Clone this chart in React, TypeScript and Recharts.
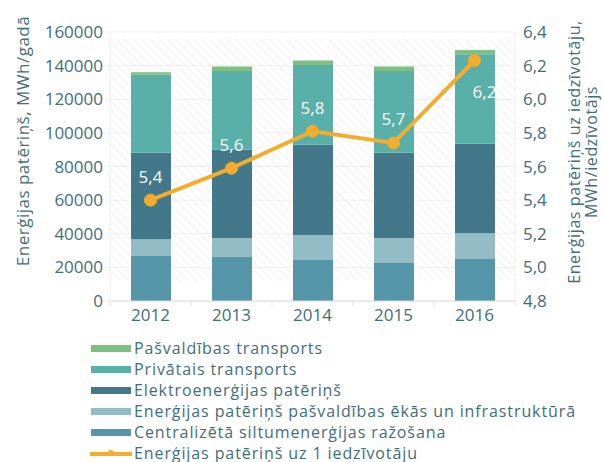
import { ComposedChart, Bar, Line, XAxis, YAxis, CartesianGrid, Legend, ReferenceArea, LabelList } from 'recharts';

const years = ['2012', '2013', '2014', '2015', '2016'];
const centralHeating = [26700, 26200, 24400, 22600, 25000];
const municipalBuildings = [10000, 11300, 14900, 14900, 15300];
const electricity = [51500, 52500, 53700, 50700, 53300];
const privateTransport = [46400, 46800, 47400, 48600, 53100];
const municipalTransport = [1400, 2700, 2700, 2700, 2600];
const perCapita = [5.4, 5.59, 5.81, 5.74, 6.23];

const leftTicks = [0, 20000, 40000, 60000, 80000, 100000, 120000, 140000, 160000];
const rightTicks = [4.8, 5.0, 5.2, 5.4, 5.6, 5.8, 6.0, 6.2, 6.4];

const data = years.map((year, i) => ({
  year,
  centralHeating: centralHeating[i],
  municipalBuildings: municipalBuildings[i],
  electricity: electricity[i],
  privateTransport: privateTransport[i],
  municipalTransport: municipalTransport[i],
  perCapita: perCapita[i],
}));

const TEXT = '#3f6e79';
const GRID = '#eeeeee';
const FONT = '"Open Sans", sans-serif';

const legendItems = [
  { name: 'Pašvaldības transports', color: '#7dbf85' },
  { name: 'Privātais transports', color: '#58b0a8' },
  { name: 'Elektroenerģijas patēriņš', color: '#42788a' },
  { name: 'Enerģijas patēriņš pašvaldības ēkās un infrastruktūrā', color: '#93bcc5' },
  { name: 'Centralizētā siltumenerģijas ražošana', color: '#5597a8' },
  { name: 'Enerģijas patēriņš uz 1 iedzīvotāju', color: '#f3ac2b', line: true },
];

const fmtComma = (v: number) => v.toFixed(1).replace('.', ',');

function XTick(props: any) {
  const { x, y, payload, index } = props;
  const half = 40.5;
  const top = y - 8;
  return (
    <g>
      <line x1={x - half} x2={x - half} y1={top} y2={top + 5} stroke="#dddddd" />
      {index === years.length - 1 && (
        <line x1={x + half} x2={x + half} y1={top} y2={top + 5} stroke="#dddddd" />
      )}
      <text x={x} y={y} dy={12} textAnchor="middle" fill={TEXT} fontSize={17} fontFamily={FONT}>
        {payload.value}
      </text>
    </g>
  );
}

function PointLabel(props: any) {
  const { x, y, value, index } = props;
  const last = index === years.length - 1;
  return (
    <text
      x={last ? x + 10 : x}
      y={last ? y + 31 : y - 24}
      textAnchor="middle"
      dominantBaseline="central"
      fill="#ffffff"
      fontSize={17}
      fontFamily={FONT}
    >
      {fmtComma(value)}
    </text>
  );
}

function LegendBox() {
  return (
    <div style={{ fontFamily: FONT, fontSize: 16, letterSpacing: 0.9, color: TEXT }}>
      {legendItems.map((item) => (
        <div key={item.name} style={{ display: 'flex', alignItems: 'center', height: 21, whiteSpace: 'nowrap' }}>
          <svg width={42} height={10} style={{ marginRight: 2 }}>
            {item.line ? (
              <g>
                <line x1={0} x2={42} y1={6} y2={6} stroke={item.color} strokeWidth={4} />
                <circle cx={21} cy={5} r={3} fill={item.color} />
              </g>
            ) : (
              <rect x={1} y={2} width={40} height={7} fill={item.color} />
            )}
          </svg>
          <span>{item.name}</span>
        </div>
      ))}
    </div>
  );
}

export default function App() {
  return (
    <div style={{ position: 'absolute', left: 0, top: 0 }}>
      <ComposedChart width={603} height={462} data={data} margin={{ top: 32, right: 0, bottom: 0, left: 0 }}>
        <defs>
          <pattern id="hatch" width="6" height="6" patternUnits="userSpaceOnUse" patternTransform="rotate(-45)">
            <line x1="0" y1="0" x2="0" y2="6" stroke="#e6e6e6" strokeWidth="1" />
          </pattern>
        </defs>
        <CartesianGrid vertical={false} stroke={GRID} yAxisId="left" />
        <ReferenceArea yAxisId="left" x1="2012" x2="2016" y1={12000} y2={156000} fill="url(#hatch)" fillOpacity={1} stroke="none" />
        <XAxis
          dataKey="year"
          height={30}
          axisLine={{ stroke: '#dddddd' }}
          tickLine={false}
          tick={<XTick />}
          interval={0}
        />
        <YAxis
          yAxisId="left"
          width={110}
          domain={[0, 160000]}
          ticks={leftTicks}
          interval={0}
          axisLine={{ stroke: GRID }}
          tickLine={{ stroke: GRID }}
          tickSize={5}
          tick={{ fill: TEXT, fontSize: 17, fontFamily: FONT }}
          label={() => (
            <text
              transform={`translate(22, 141) rotate(-90)`}
              textAnchor="middle"
              dominantBaseline="central"
              fill={TEXT}
              fontSize={17}
              letterSpacing={0.5}
              fontFamily={FONT}
            >
              Enerģijas patēriņš, MWh/gadā
            </text>
          )}
        />
        <YAxis
          yAxisId="right"
          orientation="right"
          width={88}
          domain={[4.8, 6.4]}
          ticks={rightTicks}
          interval={0}
          axisLine={{ stroke: GRID }}
          tickLine={false}
          tickFormatter={fmtComma}
          tick={{ fill: TEXT, fontSize: 17, fontFamily: FONT }}
          label={() => (
            <text
              transform={`translate(580, 152) rotate(-90)`}
              textAnchor="middle"
              fill={TEXT}
              fontSize={16}
              letterSpacing={0.6}
              fontFamily={FONT}
            >
              <tspan x={0} dy={0}>Enerģijas patēriņš uz iedzīvotāju,</tspan>
              <tspan x={0} dy={17}>MWh/iedzīvotājs</tspan>
            </text>
          )}
        />
        <Legend
          verticalAlign="bottom"
          align="left"
          content={<LegendBox />}
          wrapperStyle={{ left: 90, top: 337, bottom: 'auto', width: 520, height: 131 }}
        />
        <Bar yAxisId="left" dataKey="centralHeating" stackId="a" fill="#5597a8" barSize={40} isAnimationActive={false} />
        <Bar yAxisId="left" dataKey="municipalBuildings" stackId="a" fill="#93bcc5" barSize={40} isAnimationActive={false} />
        <Bar yAxisId="left" dataKey="electricity" stackId="a" fill="#42788a" barSize={40} isAnimationActive={false} />
        <Bar yAxisId="left" dataKey="privateTransport" stackId="a" fill="#58b0a8" barSize={40} isAnimationActive={false} />
        <Bar yAxisId="left" dataKey="municipalTransport" stackId="a" fill="#7dbf85" barSize={40} isAnimationActive={false} />
        <Line
          yAxisId="right"
          dataKey="perCapita"
          stroke="#f3ac2b"
          strokeWidth={4}
          dot={{ r: 6, fill: '#f3ac2b', stroke: '#f3ac2b', strokeWidth: 1 }}
          isAnimationActive={false}
        >
          <LabelList dataKey="perCapita" content={<PointLabel />} />
        </Line>
      </ComposedChart>
    </div>
  );
}
